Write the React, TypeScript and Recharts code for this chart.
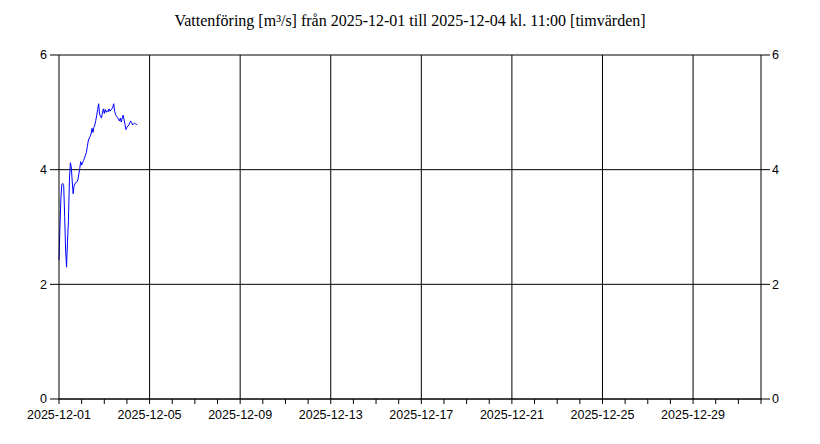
import React from 'react'
import { LineChart, Line, XAxis, YAxis, CartesianGrid, ReferenceLine } from 'recharts'

// timvärden från 2025-12-01 00:00 till 2025-12-04 11:00
const flowValues = [
  2.42, 3.0, 3.5, 3.74, 3.76, 3.72, 3.18, 2.6, 2.3, 2.75, 3.1, 3.8,
  4.12, 4.05, 3.8, 3.58, 3.72, 3.76, 3.77, 3.79, 3.82, 3.92, 4.02, 4.14,
  4.08, 4.12, 4.16, 4.2, 4.25, 4.3, 4.4, 4.5, 4.55, 4.58, 4.62, 4.72,
  4.65, 4.74, 4.78, 4.86, 4.95, 5.05, 5.15, 4.97, 4.93, 4.9, 4.99, 5.06,
  4.98, 5.05, 5.0, 5.03, 5.01, 5.06, 5.02, 5.04, 5.06, 5.09, 5.15, 5.02,
  4.96, 4.93, 4.91, 4.88, 4.85, 4.9, 4.83, 4.9, 4.95, 4.87, 4.78, 4.7,
  4.74, 4.76, 4.78, 4.82, 4.85, 4.82, 4.78, 4.8, 4.81, 4.8, 4.79, 4.79
]

const xTickLabels = [
  '2025-12-01', '2025-12-05', '2025-12-09', '2025-12-13',
  '2025-12-17', '2025-12-21', '2025-12-25', '2025-12-29'
]
const yTicks = [0, 2, 4, 6]

const daysShown = 31
const hoursPerDay = 24
const labelEvery = 4 // dagar

const data = flowValues.map((v, i) => ({ hour: i, flow: v }))
const dayTicks = Array.from({ length: daysShown + 1 }, (_, d) => d * hoursPerDay)
const labelHours = xTickLabels.map((_, i) => i * labelEvery * hoursPerDay)

const tickFont = { fontFamily: '"Liberation Sans", Arial, sans-serif', fontSize: 12.5, fill: '#000' }

const fmtX = (h: number) => {
  if (h % (labelEvery * hoursPerDay) !== 0) return ''
  return xTickLabels[h / (labelEvery * hoursPerDay)] ?? ''
}

export default function App() {
  return (
    <div style={{ position: 'absolute', left: 0, top: 0, width: 820, height: 444, background: '#fff' }}>
      <div style={{
        position: 'absolute', left: 0, top: 12, width: 820, textAlign: 'center',
        fontFamily: '"Liberation Serif", "Times New Roman", serif', fontSize: 16, color: '#000'
      }}>
        Vattenföring [m³/s] från 2025-12-01 till 2025-12-04 kl. 11:00 [timvärden]
      </div>
      <LineChart width={820} height={444} data={data} margin={{ top: 55, right: 0, bottom: 0, left: 0 }}>
        <CartesianGrid stroke="#000" vertical={false} />
        {labelHours.slice(1).map(h => (
          <ReferenceLine key={h} x={h} stroke="#000" />
        ))}
        <XAxis
          dataKey="hour"
          type="number"
          domain={[0, daysShown * hoursPerDay]}
          ticks={dayTicks}
          interval={0}
          tickFormatter={fmtX}
          tick={tickFont}
          tickSize={5}
          tickMargin={6}
          height={45}
          axisLine={{ stroke: '#000' }}
          tickLine={{ stroke: '#000' }}
        />
        <YAxis
          domain={[0, 6]}
          ticks={yTicks}
          width={59}
          tick={tickFont}
          tickSize={9}
          tickMargin={3}
          axisLine={{ stroke: '#000' }}
          tickLine={{ stroke: '#000' }}
          interval={0}
        />
        <YAxis
          yAxisId="right"
          orientation="right"
          domain={[0, 6]}
          ticks={yTicks}
          width={59}
          tick={tickFont}
          tickSize={9}
          tickMargin={2}
          axisLine={{ stroke: '#000' }}
          tickLine={{ stroke: '#000' }}
          interval={0}
        />
        <Line
          type="linear"
          dataKey="flow"
          stroke="#0000ff"
          strokeWidth={1}
          dot={false}
          isAnimationActive={false}
        />
        {/* osynlig serie så att högeraxeln får sina etiketter */}
        <Line
          yAxisId="right"
          type="linear"
          dataKey="flow"
          stroke="none"
          dot={false}
          activeDot={false}
          isAnimationActive={false}
        />
      </LineChart>
    </div>
  )
}
